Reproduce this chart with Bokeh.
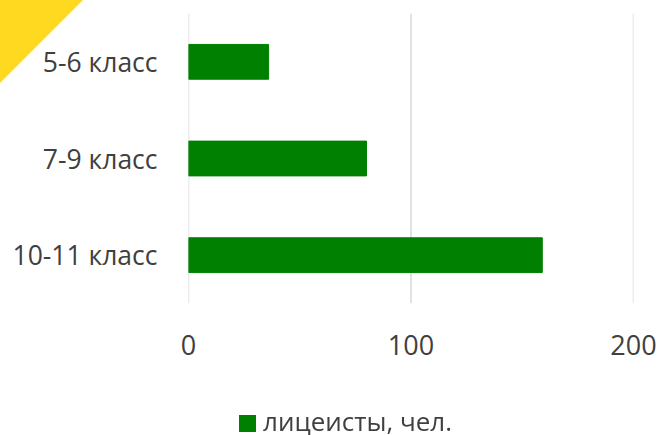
from bokeh.plotting import figure
from bokeh.models import FactorRange, Range1d, FixedTicker, Span, Div
from bokeh.layouts import column
from bokeh.embed import file_html
from bokeh.resources import INLINE

categories = ["5-6 класс", "7-9 класс", "10-11 класс"]
values = [36, 80, 159]
series_name = "лицеисты, чел."
x_ticks = [0, 100, 200]

FONT = "Open Sans"
TXT = "#404040"
GREEN = "#008000"

p = figure(width=658, height=435, output_backend="svg", toolbar_location=None,
           y_range=FactorRange(*list(reversed(categories))),
           x_range=Range1d(0, 200))
p.min_border_left = 188
p.min_border_right = 25
p.min_border_top = 13
p.min_border_bottom = 132
p.outline_line_color = None

p.xgrid.grid_line_color = None
p.ygrid.grid_line_color = None
for t in x_ticks:
    p.add_layout(Span(location=t, dimension="height", line_color="#d9d9d9", line_width=1.5, level="underlay"))

r = p.hbar(y=categories, right=values, height=0.36, left=0, color=GREEN)

p.xaxis.ticker = FixedTicker(ticks=x_ticks)
p.xaxis.axis_line_color = None
p.xaxis.major_tick_line_color = None
p.xaxis.minor_tick_line_color = None
p.xaxis.major_label_text_font = FONT
p.xaxis.major_label_text_font_size = "27px"
p.xaxis.major_label_text_color = TXT
p.xaxis.major_label_standoff = 25

p.yaxis.axis_line_color = None
p.yaxis.major_tick_line_color = None
p.yaxis.minor_tick_line_color = None
p.yaxis.major_label_text_font = FONT
p.yaxis.major_label_text_font_size = "26.5px"
p.yaxis.major_label_text_color = TXT
p.yaxis.major_label_standoff = 25

legend_html = (
    f'<span style="position:absolute;left:0px;top:7px;width:17px;height:17px;background:{GREEN}"></span>'
    f'<span style="position:absolute;left:24px;top:0px;font-family:\'{FONT}\';font-size:26px;'
    f'line-height:26px;color:{TXT};white-space:nowrap">{series_name}</span>'
)
legend_div = Div(text=legend_html, width=0, height=0, margin=0,
                 styles={"position": "fixed", "top": "408px", "left": "239px",
                         "width": "260px", "height": "26px", "overflow": "visible",
                         "z-index": "10"})

tri = Div(text="", width=0, height=0, margin=0,
          styles={"position": "fixed", "top": "0px", "left": "0px", "width": "0px", "height": "0px",
                  "border-top": "83px solid #FFD91F", "border-right": "83px solid transparent",
                  "z-index": "10"})

layout = column(tri, legend_div, p, spacing=0)
open("out.html", "w").write(file_html(layout, INLINE))
